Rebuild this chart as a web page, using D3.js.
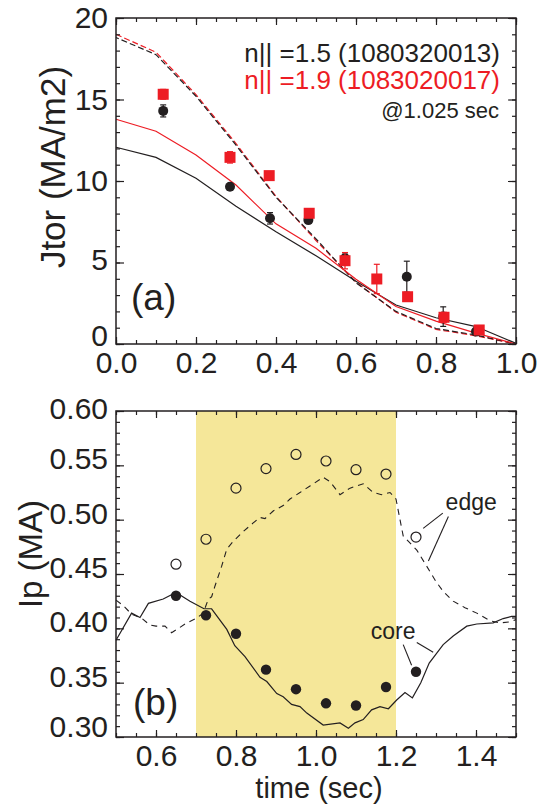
<!DOCTYPE html>
<html>
<head>
<meta charset="utf-8">
<script src="https://cdn.jsdelivr.net/npm/d3@7"></script>
<style>
  html, body { margin: 0; padding: 0; background: #fff; }
  svg { display: block; font-family: "Liberation Sans", Arial, Helvetica, sans-serif; }
</style>
</head>
<body>
<svg id="chart" width="538" height="807"></svg>
<script>
// ---------- Panel (a): toroidal current density vs normalized radius ----------
const rhoGrid = [0, 0.1, 0.2, 0.3, 0.4, 0.5, 0.6, 0.7, 0.8, 0.9, 1.0];
// modelled profiles (solid) for the two launched n|| cases
const jSolid15 = [12.07, 11.45, 10.17, 8.45, 6.88, 5.41, 3.85, 2.39, 1.61, 1.07, 0.04];
const jSolid19 = [13.79, 13.05, 11.6, 9.75, 7.37, 5.87, 3.97, 2.3, 1.4, 0.67, 0.0];
// reference profiles (dashed)
const jDash15 = [18.8, 17.75, 15.2, 12.2, 9.0, 6.45, 3.75, 2.0, 0.95, 0.55, 0.0];
const jDash19 = [19.0, 17.9, 15.3, 12.3, 9.05, 6.35, 3.8, 1.95, 0.9, 0.5, 0.0];
// measured points with error bars
const rhoMeas15 = [0.118, 0.285, 0.385, 0.481, 0.5725, 0.727, 0.818, 0.90];
const jMeas15   = [14.3, 9.65, 7.71, 7.6, 5.26, 4.13, 1.68, 0.76];
const jErr15    = [0.37, 0.2, 0.35, 0.2, 0.25, 0.95, 0.6, 0.2];
const rhoMeas19 = [0.118, 0.285, 0.383, 0.483, 0.5725, 0.652, 0.729, 0.82, 0.908];
const jMeas19   = [15.32, 11.45, 10.33, 8.02, 5.11, 3.99, 2.9, 1.64, 0.86];
const jErr19    = [0.3, 0.35, 0.2, 0.25, 0.5, 0.9, 0.2, 0.3, 0.2];
const legendLines = ["n|| =1.5 (1080320013)", "n|| =1.9 (1083020017)", "@1.025 sec"];

// ---------- Panel (b): plasma current carried in core / edge vs time ----------
const tCore = [0.50,0.539,0.56,0.581,0.618,0.65,0.685,0.72,0.739,0.777,0.797,0.8225,0.86,0.877,0.902,0.918,0.939,0.96,0.977,1.018,1.06,1.081,1.0975,1.118,1.139,1.16,1.181,1.2017,1.2225,1.241,1.262,1.283,1.318,1.343,1.377,1.402,1.443,1.468,1.489,1.5];
const ipCore = [0.389,0.414,0.410,0.423,0.427,0.433,0.425,0.418,0.418,0.399,0.384,0.374,0.355,0.351,0.340,0.337,0.330,0.328,0.322,0.311,0.313,0.308,0.313,0.316,0.325,0.328,0.326,0.334,0.341,0.336,0.350,0.368,0.385,0.393,0.402,0.404,0.405,0.409,0.411,0.411];
const tEdge = [0.50,0.518,0.539,0.565,0.585,0.60,0.6225,0.639,0.652,0.677,0.70,0.718,0.731,0.739,0.7475,0.764,0.777,0.793,0.818,0.843,0.86,0.8725,0.893,0.918,0.935,0.96,0.985,1.018,1.035,1.06,1.085,1.118,1.143,1.164,1.185,1.20,1.21,1.218,1.252,1.277,1.30,1.318,1.343,1.3725,1.402,1.435,1.46,1.485,1.5];
const ipEdge = [0.426,0.421,0.413,0.409,0.403,0.402,0.402,0.396,0.399,0.405,0.409,0.414,0.427,0.429,0.439,0.457,0.473,0.480,0.489,0.497,0.502,0.501,0.508,0.513,0.519,0.525,0.531,0.539,0.535,0.523,0.529,0.533,0.525,0.523,0.525,0.519,0.500,0.485,0.472,0.457,0.443,0.434,0.425,0.419,0.414,0.407,0.405,0.406,0.408];
const tPts = [0.65, 0.725, 0.80, 0.875, 0.95, 1.025, 1.10, 1.175, 1.25];
const ipCorePts = [0.430, 0.412, 0.395, 0.362, 0.344, 0.331, 0.329, 0.346, 0.360];
const ipEdgePts = [0.459, 0.482, 0.529, 0.547, 0.560, 0.554, 0.546, 0.542, 0.484];
const lhWindow = [0.7, 1.2];

// ---------- styling ----------
const INK = "#231f20";
const RED = "#ed1c24";
const BAND = "#f5e799";
const TICK_FONT = 30;

const svg = d3.select("#chart");

const xA = d3.scaleLinear().domain([0, 1]).range([116, 516]);
const yA = d3.scaleLinear().domain([0, 20]).range([344, 18]);
const xB = d3.scaleLinear().domain([0.5, 1.5]).range([116, 516]);
const yB = d3.scaleLinear().domain([0.30, 0.60]).range([737, 411]);

const rng = (a, b, s) => d3.range(Math.round((b - a) / s) + 1).map(i => +(a + i * s).toFixed(4));

// box with inward ticks on all four sides, labels on bottom & left
function frame(g, x, y, spec) {
  const [x0, x1] = x.range();
  const [yb, yt] = y.range();
  const add = (axis, tr) => {
    const a = g.append("g").attr("transform", tr).call(axis);
    a.select(".domain").remove();
    a.selectAll("line").attr("stroke", INK).attr("stroke-width", 1.2);
    return a;
  };
  add(d3.axisBottom(x).tickValues(spec.xMinor).tickSize(-4).tickFormat(""), `translate(0,${yb})`);
  add(d3.axisTop(x).tickValues(spec.xMinor).tickSize(-4).tickFormat(""), `translate(0,${yt})`);
  add(d3.axisLeft(y).tickValues(spec.yMinor).tickSize(-4).tickFormat(""), `translate(${x0},0)`);
  add(d3.axisRight(y).tickValues(spec.yMinor).tickSize(-4).tickFormat(""), `translate(${x1},0)`);
  add(d3.axisTop(x).tickValues(spec.xMajor).tickSize(-7).tickFormat(""), `translate(0,${yt})`);
  add(d3.axisRight(y).tickValues(spec.yMajor).tickSize(-8).tickFormat(""), `translate(${x1},0)`);

  const bx = add(d3.axisBottom(x).tickValues(spec.xMajor).tickSize(-7).tickPadding(8)
    .tickFormat(d3.format(spec.xFmt)), `translate(0,${yb})`);
  const ly = add(d3.axisLeft(y).tickValues(spec.yMajor).tickSize(-8).tickPadding(8)
    .tickFormat(d3.format(spec.yFmt)), `translate(${x0},0)`);
  [bx, ly].forEach(a => a.selectAll("text")
    .attr("fill", INK).style("font-size", TICK_FONT + "px")
    .style("font-family", '"Liberation Sans", Arial, sans-serif'));
  ly.selectAll("text").attr("dy", d => spec.yShift(d));

  g.append("rect").attr("x", x0).attr("y", yt).attr("width", x1 - x0).attr("height", yb - yt)
    .attr("fill", "none").attr("stroke", INK).attr("stroke-width", 1.5);
}

// ================= Panel (a) =================
const gA = svg.append("g");
const lineA = d3.line().x((d, i) => xA(rhoGrid[i])).y(d => yA(d));

gA.append("path").attr("d", lineA(jDash19)).attr("fill", "none")
  .attr("stroke", RED).attr("stroke-width", 1.2).attr("stroke-dasharray", "6,3");
gA.append("path").attr("d", lineA(jDash15)).attr("fill", "none")
  .attr("stroke", INK).attr("stroke-width", 1.2).attr("stroke-dasharray", "6,3")
  .attr("stroke-dashoffset", 3);
gA.append("path").attr("d", lineA(jSolid15)).attr("fill", "none")
  .attr("stroke", INK).attr("stroke-width", 1.2);
gA.append("path").attr("d", lineA(jSolid19)).attr("fill", "none")
  .attr("stroke", RED).attr("stroke-width", 1.2);

function errBars(g, xs, ys, es, color) {
  const sel = g.append("g").selectAll("g").data(xs).join("g");
  sel.append("line")
    .attr("x1", d => xA(d)).attr("x2", d => xA(d))
    .attr("y1", (d, i) => yA(ys[i] - es[i])).attr("y2", (d, i) => yA(ys[i] + es[i]))
    .attr("stroke", color).attr("stroke-width", 1.2);
  [-1, 1].forEach(s => sel.append("line")
    .attr("x1", d => xA(d) - 3).attr("x2", d => xA(d) + 3)
    .attr("y1", (d, i) => yA(ys[i] + s * es[i])).attr("y2", (d, i) => yA(ys[i] + s * es[i]))
    .attr("stroke", color).attr("stroke-width", 1.2));
}
errBars(gA, rhoMeas15, jMeas15, jErr15, INK);
gA.append("g").selectAll("circle").data(rhoMeas15).join("circle")
  .attr("cx", d => xA(d)).attr("cy", (d, i) => yA(jMeas15[i])).attr("r", 5).attr("fill", INK);
errBars(gA, rhoMeas19, jMeas19, jErr19, RED);
gA.append("g").selectAll("rect").data(rhoMeas19).join("rect")
  .attr("x", d => xA(d) - 5.5).attr("y", (d, i) => yA(jMeas19[i]) - 5.5)
  .attr("width", 11).attr("height", 11).attr("fill", RED);

frame(gA, xA, yA, {
  xMajor: rng(0, 1, 0.2), xMinor: rng(0, 1, 0.05),
  yMajor: rng(0, 20, 5), yMinor: rng(0, 20, 1),
  xFmt: ".1f", yFmt: "d",
  yShift: d => d === 0 ? "0.05em" : d === 5 ? "0.22em" : "0.32em"
});

const legend = gA.append("g").attr("text-anchor", "end");
legend.append("text").attr("x", 500).attr("y", 61.5).attr("fill", INK)
  .style("font-size", "26px").text(legendLines[0]);
legend.append("text").attr("x", 500).attr("y", 88.5).attr("fill", RED)
  .style("font-size", "26px").text(legendLines[1]);
legend.append("text").attr("x", 499).attr("y", 117.5).attr("fill", INK)
  .style("font-size", "22px").text(legendLines[2]);

gA.append("text").attr("x", 131).attr("y", 310).attr("fill", INK)
  .style("font-size", "37px").text("(a)");

gA.append("text").attr("transform", "translate(65,167) rotate(-90)")
  .attr("text-anchor", "middle").attr("fill", INK).style("font-size", "35px")
  .text("Jtor (MA/m2)");

// ================= Panel (b) =================
const gB = svg.append("g");
gB.append("rect")
  .attr("x", xB(lhWindow[0])).attr("y", yB(0.60))
  .attr("width", xB(lhWindow[1]) - xB(lhWindow[0]))
  .attr("height", yB(0.30) - yB(0.60))
  .attr("fill", BAND);

const lineB = (ts) => d3.line().x((d, i) => xB(ts[i])).y(d => yB(d));
gB.append("path").attr("d", lineB(tEdge)(ipEdge)).attr("fill", "none")
  .attr("stroke", INK).attr("stroke-width", 1.1).attr("stroke-dasharray", "6,5");
gB.append("path").attr("d", lineB(tCore)(ipCore)).attr("fill", "none")
  .attr("stroke", INK).attr("stroke-width", 1.2);

gB.append("g").selectAll("circle").data(tPts).join("circle")
  .attr("cx", d => xB(d)).attr("cy", (d, i) => yB(ipEdgePts[i])).attr("r", 5)
  .attr("fill", "none").attr("stroke", INK).attr("stroke-width", 1.2);
gB.append("g").selectAll("circle").data(tPts).join("circle")
  .attr("cx", d => xB(d)).attr("cy", (d, i) => yB(ipCorePts[i])).attr("r", 5.2)
  .attr("fill", INK);

frame(gB, xB, yB, {
  xMajor: rng(0.6, 1.4, 0.2), xMinor: rng(0.5, 1.5, 0.05),
  yMajor: rng(0.30, 0.60, 0.05), yMinor: rng(0.30, 0.60, 0.01),
  xFmt: ".1f", yFmt: ".2f",
  yShift: d => Math.abs(d - 0.30) < 1e-6 ? "-0.03em" : Math.abs(d - 0.60) < 1e-6 ? "0.26em" : "0.12em"
});

// core / edge call-outs
const callout = (label, tx, ty, leaders) => {
  const g = gB.append("g");
  g.append("text").attr("x", xB(tx)).attr("y", yB(ty)).attr("fill", INK)
    .style("font-size", "23px").text(label);
  leaders.forEach(([a, b, c, d]) => g.append("line")
    .attr("x1", xB(a)).attr("y1", yB(b)).attr("x2", xB(c)).attr("y2", yB(d))
    .attr("stroke", INK).attr("stroke-width", 1.1));
};
callout("edge", 1.324, 0.509, [[1.317, 0.506, 1.268, 0.492], [1.331, 0.503, 1.281, 0.462]]);
callout("core", 1.137, 0.390, [[1.218, 0.385, 1.239, 0.366], [1.252, 0.387, 1.293, 0.378]]);

gB.append("text").attr("x", 133).attr("y", 715).attr("fill", INK)
  .style("font-size", "37px").text("(b)");

gB.append("text").attr("transform", "translate(42,554) rotate(-90)")
  .attr("text-anchor", "middle").attr("fill", INK).style("font-size", "33px")
  .text("Ip (MA)");

gB.append("text").attr("x", 319).attr("y", 798).attr("text-anchor", "middle")
  .attr("fill", INK).style("font-size", "29px").text("time (sec)");
</script>
</body>
</html>
